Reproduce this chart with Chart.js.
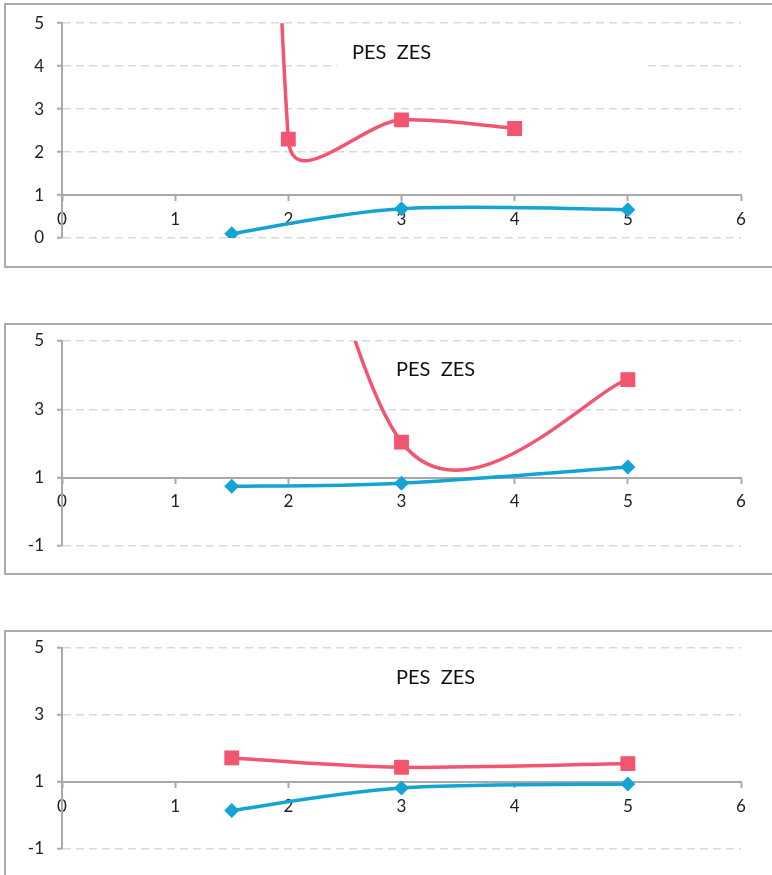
<!DOCTYPE html>
<html>
<head>
<meta charset="utf-8">
<script src="https://cdn.jsdelivr.net/npm/chart.js@4/dist/chart.umd.min.js"></script>
<style>
  html, body { margin: 0; padding: 0; background: #ffffff; overflow: hidden; width: 772px; height: 875px; }
  .frame { position: absolute; left: 4px; width: 840px; box-sizing: border-box; border: 2px solid #ababab; }
  canvas { position: absolute; left: 0; }
</style>
</head>
<body>
<div class="frame" style="top:3px;height:265px"></div>
<div class="frame" style="top:323px;height:252px"></div>
<div class="frame" style="top:630px;height:300px"></div>
<canvas id="chart1" width="772" height="270" style="top:0px"></canvas>
<canvas id="chart2" width="772" height="270" style="top:310px"></canvas>
<canvas id="chart3" width="772" height="270" style="top:620px"></canvas>
<script>
// ---- data ----
const chartTitle = 'PES  ZES';
const xTickValues = [0, 1, 2, 3, 4, 5, 6];

// upper chart
const top_pesX = [1.5, 2, 3, 4];
const top_pesY = [60, 2.3, 2.75, 2.55];
const top_zesX = [1.5, 3, 5];
const top_zesY = [0.1, 0.68, 0.66];
const top_yTicks = [0, 1, 2, 3, 4, 5];

// middle chart
const mid_pesX = [1.5, 3, 5];
const mid_pesY = [19, 2.04, 3.87];
const mid_zesX = [1.5, 3, 5];
const mid_zesY = [0.75, 0.84, 1.31];
const mid_yTicks = [-1, 1, 3, 5];

// lower chart
const low_pesX = [1.5, 3, 5];
const low_pesY = [1.72, 1.44, 1.55];
const low_zesX = [1.5, 3, 5];
const low_zesY = [0.15, 0.82, 0.94];
const low_yTicks = [-1, 1, 3, 5];

// ---- styling ----
const PES_COLOR = '#f2556f';
const ZES_COLOR = '#14a3d5';
const AXIS_COLOR = '#a9a9a9';
const GRID_COLOR = '#d9d9d9';
const TEXT_COLOR = '#222222';
Chart.defaults.font.family = 'Lato, "Open Sans", sans-serif';

// Spreadsheet-style smoothed line: Bezier handles are 1/6 of the
// neighbour chord, limited to half of the segment length.
const smoothSegments = {
  id: 'smoothSegments',
  beforeDatasetDraw(chart, args) {
    const meta = args.meta;
    const pts = meta.data;
    const n = pts.length;
    const f = 1 / 6;
    for (let i = 0; i < n - 1; i++) {
      const p0 = pts[Math.max(i - 1, 0)];
      const p1 = pts[i];
      const p2 = pts[i + 1];
      const p3 = pts[Math.min(i + 2, n - 1)];
      const d12 = Math.hypot(p2.x - p1.x, p2.y - p1.y);
      const d02 = Math.hypot(p2.x - p0.x, p2.y - p0.y);
      const d13 = Math.hypot(p3.x - p1.x, p3.y - p1.y);
      const f1 = d02 * f > d12 / 2 ? (d12 / 2) / d02 : f;
      const f2 = d13 * f > d12 / 2 ? (d12 / 2) / d13 : f;
      p1.cp2x = p1.x + f1 * (p2.x - p0.x);
      p1.cp2y = p1.y + f1 * (p2.y - p0.y);
      p2.cp1x = p2.x - f2 * (p3.x - p1.x);
      p2.cp1y = p2.y - f2 * (p3.y - p1.y);
    }
    meta.dataset._pointsUpdated = true;
  }
};

// Title text on a white box inside the plot area.
const plotTitle = {
  id: 'plotTitle',
  beforeDatasetsDraw(chart, args, opts) {
    const ctx = chart.ctx;
    ctx.save();
    ctx.fillStyle = '#ffffff';
    ctx.fillRect(opts.boxLeft, opts.boxTop, opts.boxWidth, opts.boxHeight);
    ctx.fillStyle = '#111111';
    ctx.font = '20px Lato, "Open Sans", sans-serif';
    ctx.textAlign = 'left';
    ctx.textBaseline = 'alphabetic';
    ctx.fillText(opts.text, opts.x, opts.y);
    ctx.restore();
  }
};

function toPoints(xs, ys) {
  return xs.map((x, i) => ({ x: x, y: ys[i] }));
}

function makeChart(canvasId, pesX, pesY, zesX, zesY, yTicks, pad, title) {
  return new Chart(document.getElementById(canvasId), {
    type: 'line',
    data: {
      datasets: [
        {
          label: 'PES',
          data: toPoints(pesX, pesY),
          borderColor: PES_COLOR,
          backgroundColor: PES_COLOR,
          borderWidth: 3.5,
          pointStyle: 'rect',
          pointRadius: 10.5,
          pointBorderWidth: 0,
          tension: 0.4,
          fill: false
        },
        {
          label: 'ZES',
          data: toPoints(zesX, zesY),
          borderColor: ZES_COLOR,
          backgroundColor: ZES_COLOR,
          borderWidth: 3.5,
          pointStyle: 'rectRot',
          pointRadius: 7.5,
          pointBorderWidth: 0,
          tension: 0.4,
          fill: false
        }
      ]
    },
    options: {
      responsive: false,
      animation: false,
      events: [],
      layout: { padding: { left: 0, right: 31, top: pad.top, bottom: pad.bottom } },
      plugins: {
        legend: { display: false },
        tooltip: { enabled: false },
        plotTitle: title
      },
      scales: {
        x: {
          type: 'linear',
          position: { y: 1 },
          min: xTickValues[0],
          max: xTickValues[xTickValues.length - 1],
          afterBuildTicks: s => { s.ticks = xTickValues.map(v => ({ value: v })); },
          ticks: { color: TEXT_COLOR, font: { size: 17 }, padding: 9, maxRotation: 0 },
          grid: { drawOnChartArea: false, drawTicks: true, tickLength: 5, tickColor: AXIS_COLOR, tickWidth: 2 },
          border: { color: AXIS_COLOR, width: 2 }
        },
        y: {
          type: 'linear',
          position: 'left',
          min: yTicks[0],
          max: yTicks[yTicks.length - 1],
          afterBuildTicks: s => { s.ticks = yTicks.map(v => ({ value: v })); },
          afterFit: s => { s.width = 62; },
          ticks: { color: TEXT_COLOR, font: { size: 17 }, padding: 13 },
          grid: { color: GRID_COLOR, lineWidth: 1.5, tickLength: 5, tickColor: AXIS_COLOR, tickWidth: 2 },
          border: { color: AXIS_COLOR, width: 2, dash: [8, 5] }
        }
      }
    },
    plugins: [smoothSegments, plotTitle]
  });
}

makeChart('chart1', top_pesX, top_pesY, top_zesX, top_zesY, top_yTicks,
  { top: 21, bottom: 32 },
  { text: chartTitle, x: 352, y: 58.5, boxLeft: 337, boxTop: 29, boxWidth: 306, boxHeight: 44 });

makeChart('chart2', mid_pesX, mid_pesY, mid_zesX, mid_zesY, mid_yTicks,
  { top: 31, bottom: 34 },
  { text: chartTitle, x: 396, y: 65.5, boxLeft: 381, boxTop: 37, boxWidth: 306, boxHeight: 44 });

makeChart('chart3', low_pesX, low_pesY, low_zesX, low_zesY, low_yTicks,
  { top: 28, bottom: 41 },
  { text: chartTitle, x: 396, y: 63.5, boxLeft: 381, boxTop: 34, boxWidth: 306, boxHeight: 44 });
</script>
</body>
</html>
